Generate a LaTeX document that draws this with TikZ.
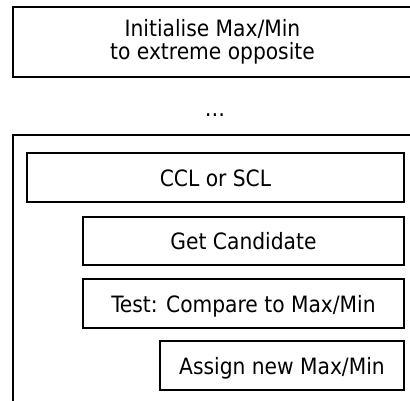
\documentclass[tikz,border=0pt]{standalone}
\usepackage{fontspec}
\setmainfont{DejaVu Sans Condensed}
\begin{document}
\begin{tikzpicture}[x=1pt,y=-1pt,
  box/.style={draw=black, line width=1.3pt, rectangle, inner sep=0pt, outer sep=0pt,
    font=\fontsize{22.5}{22.5}\selectfont, align=center},
  onerow/.style={box, text height=17.5pt, text depth=0pt},
  frame/.style={draw=black, line width=1.3pt, rectangle, inner sep=0pt, outer sep=0pt}]
  \useasboundingbox (0,0) rectangle (410,400);
  \clip (0,0) rectangle (410,400);
  % initialisation step (runs off the right edge)
  \node[box, minimum width=399pt, minimum height=70pt] (init) at (212.5,42)
    {Initialise Max/Min\\to extreme opposite};
  \node[font=\fontsize{22.5}{24}\selectfont, inner sep=0pt] (dots) at (215,115) {\dots};
  % enclosing loop frame (runs off right and bottom edges)
  \node[frame, minimum width=399pt, minimum height=300pt, anchor=north west] (loop) at (13,135) {};
  % loop body
  \node[onerow, minimum width=377pt, minimum height=49pt] (ccl) at (215.5,177.5) {CCL or SCL};
  \node[onerow, minimum width=321pt, minimum height=48pt] (cand) at (243.5,241) {Get Candidate};
  \node[onerow, minimum width=321pt, minimum height=49pt] (test) at (243.5,303.5) {Test: Compare to Max/Min};
  \node[onerow, minimum width=244pt, minimum height=49pt] (assign) at (282,365.5) {Assign new Max/Min};
\end{tikzpicture}
\end{document}
